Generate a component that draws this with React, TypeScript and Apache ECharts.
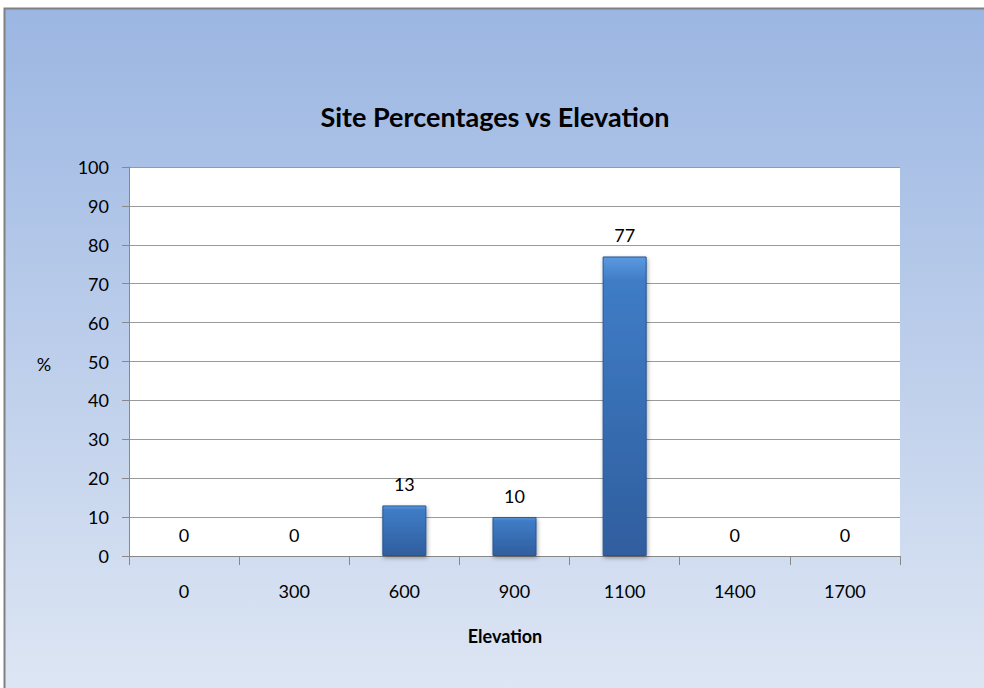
import React, { useEffect, useRef } from "react";
import * as echarts from "echarts";

const categories = ["0", "300", "600", "900", "1100", "1400", "1700"];
const percentages = [0, 0, 13, 10, 77, 0, 0];
const yTicks = { min: 0, max: 100, interval: 10 };
const titleText = "Site Percentages vs Elevation";
const xName = "Elevation";
const yName = "%";

const FONT = "Lato, 'Open Sans', sans-serif";

export default function App() {
  const ref = useRef<HTMLDivElement>(null);
  useEffect(() => {
    if (!ref.current) return;
    const chart = echarts.init(ref.current, null, { renderer: "svg" });
    chart.setOption({
      animation: false,
      backgroundColor: "#ffffff",
      graphic: [
        {
          type: "rect",
          z: -10,
          silent: true,
          shape: { x: 4.5, y: 8.5, width: 1000, height: 700 },
          style: {
            fill: new echarts.graphic.LinearGradient(0, 0, 0, 1, [
              { offset: 0, color: "#9bb6e2" },
              { offset: 1, color: "#dfe7f4" },
            ]),
            stroke: "#808080",
            lineWidth: 2,
          },
        },
        {
          type: "text",
          x: 495,
          y: 116,
          style: {
            text: titleText,
            font: `bold 27px ${FONT}`,
            fill: "#000",
            align: "center",
            verticalAlign: "middle",
          },
        },
        {
          type: "text",
          x: 44,
          y: 364,
          style: {
            text: yName,
            font: `18px ${FONT}`,
            fill: "#000",
            align: "center",
            verticalAlign: "middle",
          },
        },
        {
          type: "text",
          x: 505,
          y: 636,
          style: {
            text: xName,
            font: `bold 18px ${FONT}`,
            fill: "#000",
            align: "center",
            verticalAlign: "middle",
          },
        },
      ],
      grid: { left: 129, right: 84, top: 167, bottom: 132, show: true, backgroundColor: "#ffffff", borderWidth: 0 },
      xAxis: {
        type: "category",
        data: categories,
        axisLine: { lineStyle: { color: "#888", width: 1 } },
        axisTick: { show: true, length: 9, inside: false, alignWithLabel: false, lineStyle: { color: "#888" } },
        axisLabel: { fontFamily: FONT, fontSize: 18, color: "#000", margin: 26 },
        splitLine: { show: false },
      },
      yAxis: {
        type: "value",
        min: yTicks.min,
        max: yTicks.max,
        interval: yTicks.interval,
        axisLine: { show: true, lineStyle: { color: "#888", width: 1 } },
        axisTick: { show: true, length: 7, lineStyle: { color: "#888" } },
        axisLabel: { fontFamily: FONT, fontSize: 18, color: "#000", margin: 20 },
        splitLine: { show: true, lineStyle: { color: "#9a9a9a", width: 1 } },
      },
      series: [
        {
          type: "bar",
          data: percentages,
          barWidth: "40%",
          itemStyle: {
            color: new echarts.graphic.LinearGradient(0, 0, 0, 1, [
              { offset: 0, color: "#5b9ae0" },
              { offset: 0.08, color: "#3f7cc6" },
              { offset: 1, color: "#2f5e9e" },
            ]),
            borderColor: "#2a5590",
            borderWidth: 1,
            shadowColor: "rgba(0,0,0,0.35)",
            shadowBlur: 4,
            shadowOffsetX: 1,
            shadowOffsetY: 2,
          },
          label: {
            show: true,
            position: "top",
            distance: 12,
            fontFamily: FONT,
            fontSize: 18,
            color: "#000",
          },
        },
      ],
    });
    return () => chart.dispose();
  }, []);
  return (
    <div
      ref={ref}
      style={{ position: "fixed", left: 0, top: 0, width: 984, height: 688 }}
    />
  );
}
